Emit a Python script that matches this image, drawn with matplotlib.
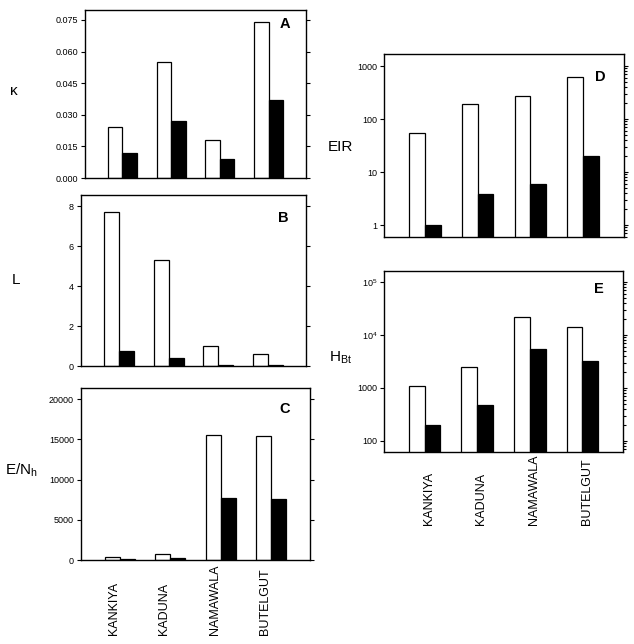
import matplotlib
matplotlib.use("Agg")
import matplotlib.pyplot as plt
import matplotlib.transforms as mtransforms
import numpy as np

plt.rcParams['font.family'] = ['Liberation Sans', 'DejaVu Sans']
plt.rcParams['mathtext.fontset'] = 'custom'
plt.rcParams['mathtext.rm'] = 'Liberation Sans'
plt.rcParams['mathtext.it'] = 'Liberation Sans:italic'
plt.rcParams['mathtext.bf'] = 'Liberation Sans:bold'

sites = ['KANKIYA', 'KADUNA', 'NAMAWALA', 'BUTELGUT']

kappa_open = [0.024, 0.055, 0.018, 0.074]
kappa_filled = [0.012, 0.027, 0.009, 0.037]

L_open = [7.7, 5.3, 1.0, 0.6]
L_filled = [0.75, 0.4, 0.07, 0.07]

ENh_open = [400, 700, 15500, 15400]
ENh_filled = [150, 300, 7700, 7650]

EIR_open = [55, 190, 270, 620]
EIR_filled = [1.0, 3.85, 5.9, 20]

HBt_open = [1090, 2500, 22000, 14200]
HBt_filled = [200, 480, 5450, 3240]

W, H = 634, 644
fig = plt.figure(figsize=(W / 100, H / 100), dpi=100)


def px_axes(left, right, top, bottom):
    return fig.add_axes([left / W, (H - bottom) / H, (right - left) / W, (bottom - top) / H])


def draw_panel(ax, opened, filled, letter, ylabel, lab_xy, letter_xy, log=False):
    x = np.arange(len(sites))
    w = 0.3
    if log:
        ax.set_yscale('log')
    ax.bar(x - w / 2, opened, w, color='white', edgecolor='black', linewidth=0.9)
    ax.bar(x + w / 2, filled, w, color='black', edgecolor='black', linewidth=0.9)
    ax.set_xlim(-0.77, 3.77)
    for s in ax.spines.values():
        s.set_linewidth(1.0)
    ax.tick_params(axis='y', which='both', direction='out', left=True, right=True,
                   labelsize=6.5, length=3, width=0.8, pad=2)
    ax.tick_params(axis='y', which='minor', left=False, length=2)
    ax.set_xticks([])
    ax.text(letter_xy[0], letter_xy[1], letter, transform=ax.transAxes,
            fontsize=10.5, fontweight='bold', ha='center', va='center')
    ax.set_ylabel(ylabel, rotation=0, fontsize=11, ha='center', va='center')
    ax.yaxis.set_label_coords(*lab_xy)


def site_labels(ax, offset, ybase):
    trans = mtransforms.blended_transform_factory(ax.transData, ax.transAxes)
    for i, name in enumerate(sites):
        ax.text(i + offset, ybase, name, transform=trans, rotation=90,
                ha='center', va='bottom', fontsize=9,
                family=['Liberation Sans Narrow', 'Liberation Sans'])


# A
axA = px_axes(85, 306, 10, 178)
draw_panel(axA, kappa_open, kappa_filled, 'A', 'κ', (-0.32, 0.52), (0.905, 0.915))
axA.set_ylim(0, 0.0797)
axA.set_yticks([0, 0.015, 0.030, 0.045, 0.060, 0.075])
axA.set_yticklabels(['0.000', '0.015', '0.030', '0.045', '0.060', '0.075'])

# B
axB = px_axes(81, 306, 195, 366)
draw_panel(axB, L_open, L_filled, 'B', 'L', (-0.29, 0.50), (0.9, 0.865))
axB.set_ylim(0, 8.55)
axB.set_yticks([0, 2, 4, 6, 8])

# C
axC = px_axes(81, 310, 388, 560)
draw_panel(axC, ENh_open, ENh_filled, 'C', r'E/N$_{\mathrm{h}}$', (-0.26, 0.52), (0.89, 0.88))
axC.set_ylim(0, 21400)
axC.set_yticks([0, 5000, 10000, 15000, 20000])
site_labels(axC, -0.12, -0.436)

# D
axD = px_axes(384, 624, 54, 237)
draw_panel(axD, EIR_open, EIR_filled, 'D', 'EIR', (-0.18, 0.49), (0.9, 0.875), log=True)
axD.set_ylim(0.594, 1685)
axD.set_yticks([1, 10, 100, 1000])
axD.set_yticklabels(['1', '10', '100', '1000'])

# E
axE = px_axes(384, 623, 271, 452)
draw_panel(axE, HBt_open, HBt_filled, 'E', r'H$_{\mathrm{Bt}}$', (-0.18, 0.52), (0.9, 0.9), log=True)
axE.set_ylim(62, 1.61e5)
axE.set_yticks([100, 1000, 1e4, 1e5])
axE.set_yticklabels(['100', '1000', r'10$^{4}$', r'10$^{5}$'])
site_labels(axE, 0.08, -0.403)

fig.savefig('out.png', dpi=100)
